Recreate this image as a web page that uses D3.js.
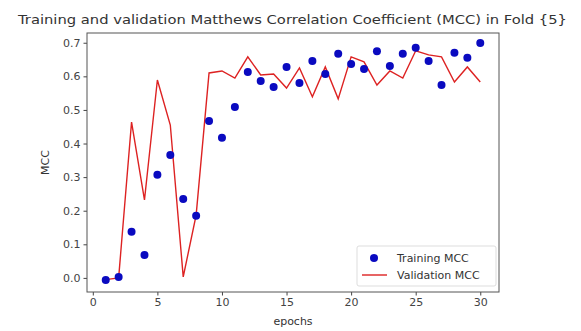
<!DOCTYPE html>
<html lang="en">
<head>
	<title>MCC Fold 5</title>
	<script src="https://d3js.org/d3.v7.min.js" charset="utf-8"></script>
	<style>
		body { margin: 0; background: #fff; }
		text { font-family: "DejaVu Sans", sans-serif; fill: #333; }
	</style>
</head>
<body>
	<script>
		var epochs = d3.range(1, 31);
		var trainMCC = [-0.006, 0.003, 0.137, 0.068, 0.307, 0.366, 0.235, 0.185, 0.467, 0.417,
			0.509, 0.613, 0.586, 0.568, 0.628, 0.58, 0.646, 0.607, 0.667, 0.637,
			0.622, 0.675, 0.631, 0.667, 0.685, 0.646, 0.574, 0.67, 0.655, 0.699];
		var valMCC = [-0.005, 0.0, 0.464, 0.232, 0.589, 0.455, 0.003, 0.187, 0.61, 0.616,
			0.595, 0.658, 0.604, 0.607, 0.565, 0.625, 0.539, 0.628, 0.533, 0.658,
			0.643, 0.574, 0.616, 0.595, 0.676, 0.664, 0.658, 0.583, 0.628, 0.583];
		var xTicks = [0, 5, 10, 15, 20, 25, 30];
		var yTicks = [0.0, 0.1, 0.2, 0.3, 0.4, 0.5, 0.6, 0.7];

		var w = 581, h = 331;
		// plot area (named to avoid clashing with window.top)
		var pLeft = 87, pRight = 499, pTop = 33, pBottom = 292;

		var svg = d3.select("body").append("svg")
			.attr("width", w)
			.attr("height", h);

		var x = d3.scaleLinear().domain([-0.45, 31.45]).range([pLeft, pRight]);
		var y = d3.scaleLinear().domain([-0.042, 0.729]).range([pBottom, pTop]);

		// axes
		svg.append("g")
			.attr("transform", "translate(0," + pBottom + ")")
			.call(d3.axisBottom(x).tickValues(xTicks).tickFormat(d3.format("d")).tickSize(3.5).tickPadding(3))
			.call(function(g) { g.select(".domain").remove(); });
		svg.append("g")
			.attr("transform", "translate(" + pLeft + ",0)")
			.call(d3.axisLeft(y).tickValues(yTicks).tickFormat(d3.format(".1f")).tickSize(3.5).tickPadding(3))
			.call(function(g) { g.select(".domain").remove(); });
		svg.selectAll(".tick text").style("font-size", "11px").style("fill", "#444");
		svg.selectAll(".tick line").attr("stroke", "#444");

		// validation line
		var line = d3.line()
			.x(function(d, i) { return x(epochs[i]); })
			.y(function(d) { return y(d); });
		svg.append("path")
			.datum(valMCC)
			.attr("d", line)
			.attr("fill", "none")
			.attr("stroke", "#dd2222")
			.attr("stroke-width", 1.4);

		// training dots
		svg.selectAll("circle.train")
			.data(trainMCC)
			.enter()
			.append("circle")
			.attr("class", "train")
			.attr("cx", function(d, i) { return x(epochs[i]); })
			.attr("cy", function(d) { return y(d); })
			.attr("r", 4)
			.attr("fill", "#0a0ac0");

		// frame
		svg.append("rect")
			.attr("x", pLeft).attr("y", pTop)
			.attr("width", pRight - pLeft).attr("height", pBottom - pTop)
			.attr("fill", "none").attr("stroke", "#555").attr("stroke-width", 1);

		// title and labels
		svg.append("text")
			.attr("x", 18).attr("y", 24)
			.attr("textLength", 549).attr("lengthAdjust", "spacingAndGlyphs")
			.style("font-size", "13px")
			.text("Training and validation Matthews Correlation Coefficient (MCC) in Fold {5}");
		svg.append("text")
			.attr("x", 293).attr("y", 325)
			.attr("text-anchor", "middle")
			.style("font-size", "11px")
			.text("epochs");
		svg.append("text")
			.attr("transform", "translate(49," + (pTop + pBottom) / 2 + ") rotate(-90)")
			.attr("text-anchor", "middle")
			.style("font-size", "11px")
			.text("MCC");

		// legend
		var lg = svg.append("g").attr("transform", "translate(357,246)");
		lg.append("rect")
			.attr("width", 139).attr("height", 40).attr("rx", 2)
			.attr("fill", "#fff").attr("stroke", "#ddd");
		lg.append("circle").attr("cx", 17).attr("cy", 12).attr("r", 4).attr("fill", "#0a0ac0");
		lg.append("text").attr("x", 40).attr("y", 16).style("font-size", "11px").text("Training MCC");
		lg.append("line").attr("x1", 5).attr("x2", 30).attr("y1", 29).attr("y2", 29)
			.attr("stroke", "#dd2222").attr("stroke-width", 1.4);
		lg.append("text").attr("x", 40).attr("y", 33).style("font-size", "11px").text("Validation MCC");
	</script>
</body>
</html>
